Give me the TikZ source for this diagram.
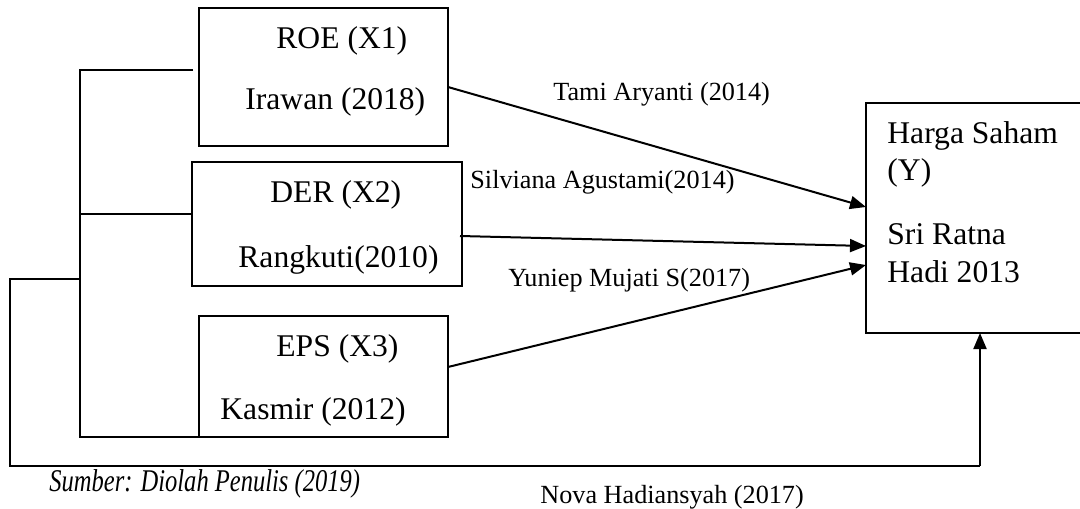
\documentclass[tikz,border=0pt]{standalone}
\usepackage{fontspec}
\setmainfont{Liberation Serif}
\usetikzlibrary{arrows.meta}
\begin{document}
\begin{tikzpicture}[x=0.5pt,y=-0.5pt,
  box/.style={draw,line width=1pt,inner sep=0pt,outer sep=0pt},
  lbl/.style={anchor=base west,inner sep=0pt,font=\fontsize{15.8}{19}\selectfont},
  slbl/.style={anchor=base west,inner sep=0pt,font=\fontsize{13.1}{16}\selectfont},
  conn/.style={line width=1pt},
  arr/.style={line width=1pt,-{Triangle[length=8pt,width=6.5pt]}}]
\useasboundingbox (0,0) rectangle (1080,508);
% boxes
\node[box,minimum width=124.5pt,minimum height=69pt,anchor=north west] (roe) at (199,8) {};
\node[box,minimum width=135pt,minimum height=62pt,anchor=north west] (der) at (192,162) {};
\node[box,minimum width=124.5pt,minimum height=60.5pt,anchor=north west] (eps) at (199,316) {};
\node[box,minimum width=109pt,minimum height=115pt,anchor=north west] (y) at (866,103) {};
% box texts
\node[lbl] (t1) at (276,49) {ROE (X1)};
\node[lbl] (t2) at (245,110) {Irawan (2018)};
\node[lbl] (t3) at (270,202) {DER (X2)};
\node[lbl] (t4) at (238,267) {Rangkuti(2010)};
\node[lbl] (t5) at (276,356) {EPS (X3)};
\node[lbl] (t6) at (220,419) {Kasmir (2012)};
\node[lbl] (t7) at (887,143) {Harga Saham};
\node[lbl] (t8) at (887,180) {(Y)};
\node[lbl] (t9) at (887,244) {Sri Ratna};
\node[lbl] (t10) at (887,282) {Hadi 2013};
% labels
\node[slbl] (l1) at (553,100) {Tami Aryanti (2014)};
\node[slbl] (l2) at (470,188) {Silviana Agustami(2014)};
\node[slbl] (l3) at (508,286) {Yuniep Mujati S(2017)};
\node[slbl] (l4) at (540,503) {Nova Hadiansyah (2017)};
\node[lbl] (src) at (49,491) {\scalebox{0.776}[1]{\itshape Sumber: Diolah Penulis (2019)}};
% bracket
\coordinate (b1) at (80,70);
\coordinate (b1e) at (193,70);
\coordinate (b2) at (80,214);
\coordinate (b3) at (80,437);
\coordinate (b4) at (80,279);
\coordinate (o1) at (10,279);
\coordinate (o2) at (10,466);
\coordinate (o3) at (980,466);
\draw[conn] (b1e) -- (b1) -- (b3) -- (eps.south west);
\draw[conn] (b2) -- (der.west |- b2);
\draw[conn] (b4) -- (o1) -- (o2) -- (o3);
\draw[arr] (o3) -- (o3 |- y.south);
% arrows
\draw[arr] (roe.east |- 0,87) -- (866,207);
\draw[arr] (460,236) -- (866,246);
\draw[arr] (eps.east |- 0,367) -- (866,265);
\end{tikzpicture}
\end{document}
